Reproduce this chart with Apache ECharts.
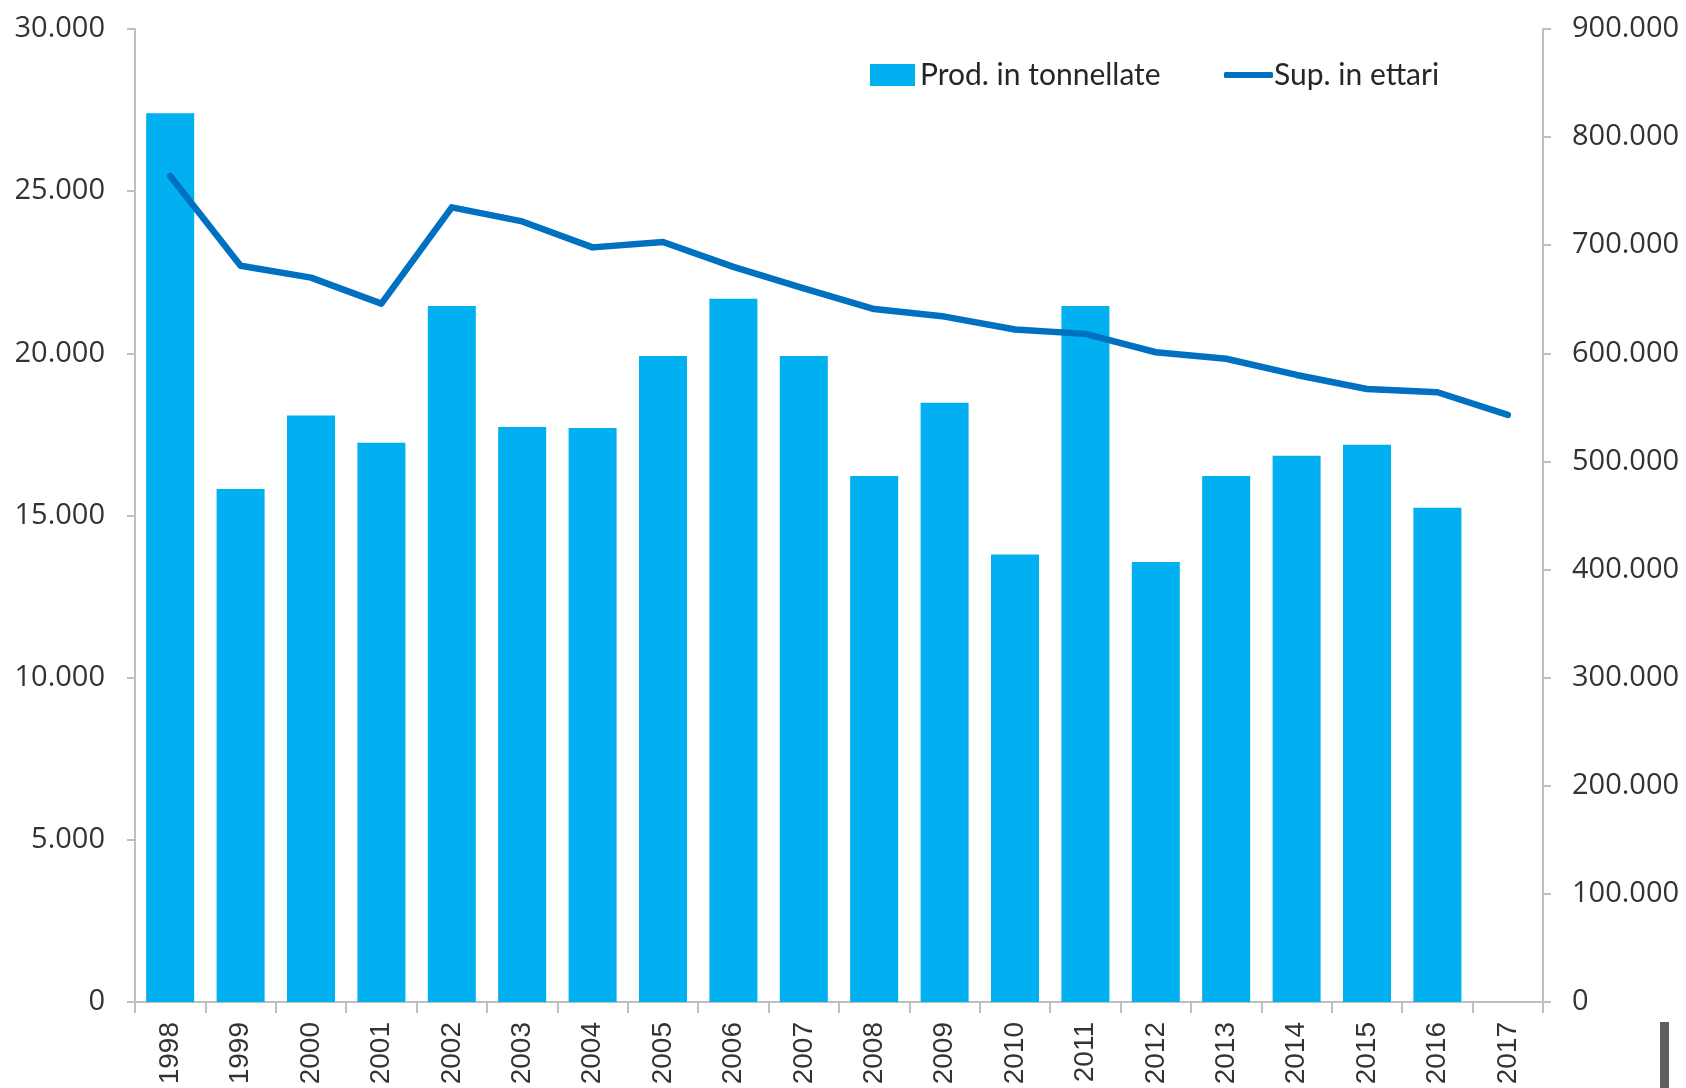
<!DOCTYPE html>
<html>
<head>
<meta charset="utf-8">
<script src="https://cdn.jsdelivr.net/npm/echarts@6/dist/echarts.min.js"></script>
<style>
html,body{margin:0;padding:0;background:#fff;}
#c{width:1686px;height:1088px;}
</style>
</head>
<body>
<div id="c"></div>
<script>
const years = ['1998','1999','2000','2001','2002','2003','2004','2005','2006','2007','2008','2009','2010','2011','2012','2013','2014','2015','2016','2017'];
const prodTonnellate = [27400, 15820, 18080, 17240, 21460, 17730, 17700, 19920, 21680, 19920, 16220, 18480, 13800, 21460, 13570, 16220, 16840, 17180, 15240, null];
const supEttari = [764000, 681000, 670000, 646000, 735000, 722000, 698000, 703000, 680000, 660000, 641000, 634000, 622000, 618000, 601000, 595000, 580000, 567000, 564000, 543000];
const seriesNames = ['Prod. in tonnellate', 'Sup. in ettari'];
const leftAxis = {min: 0, max: 30000, interval: 5000};
const rightAxis = {min: 0, max: 900000, interval: 100000};

function fmt(v){ return String(v).replace(/\B(?=(\d{3})+(?!\d))/g, '.'); }

const axisColor = '#bfbfbf';
const labelColor = '#333333';
const chart = echarts.init(document.getElementById('c'), null, {renderer: 'canvas'});
chart.setOption({
  animation: false,
  backgroundColor: '#ffffff',
  grid: {left: 135, right: 143, top: 29, bottom: 86, containLabel: false},
  legend: [{
    data: [seriesNames[0]],
    left: 865, top: 55,
    itemWidth: 45, itemHeight: 22, icon: 'rect',
    textStyle: {fontFamily: 'Lato', fontSize: 30, lineHeight: 22, color: '#262626'}
  },{
    data: [seriesNames[1]],
    left: 1219, top: 55,
    itemWidth: 49, itemHeight: 6, icon: 'roundRect',
    textStyle: {fontFamily: 'Lato', fontSize: 30, lineHeight: 22, color: '#262626', padding: [0,0,0,-4]}
  }],
  xAxis: {
    type: 'category',
    data: years,
    boundaryGap: true,
    axisLine: {lineStyle: {color: axisColor, width: 2}},
    axisTick: {show: true, length: 11, lineStyle: {color: axisColor, width: 2}},
    axisLabel: {rotate: 90, margin: 20, fontFamily: 'Liberation Sans', fontSize: 28, color: labelColor, interval: 0}
  },
  yAxis: [{
    type: 'value', position: 'left',
    min: leftAxis.min, max: leftAxis.max, interval: leftAxis.interval,
    splitLine: {show: false},
    axisLine: {show: true, lineStyle: {color: axisColor, width: 2}},
    axisTick: {show: true, length: 8, lineStyle: {color: axisColor, width: 2}},
    axisLabel: {margin: 30, fontFamily: 'Open Sans', fontSize: 29, color: labelColor, formatter: fmt}
  },{
    type: 'value', position: 'right',
    min: rightAxis.min, max: rightAxis.max, interval: rightAxis.interval,
    splitLine: {show: false},
    axisLine: {show: true, lineStyle: {color: axisColor, width: 2}},
    axisTick: {show: true, length: 8, lineStyle: {color: axisColor, width: 2}},
    axisLabel: {margin: 29, fontFamily: 'Open Sans', fontSize: 29, color: labelColor, formatter: fmt}
  }],
  series: [{
    name: seriesNames[0],
    type: 'bar',
    yAxisIndex: 0,
    data: prodTonnellate,
    barWidth: 48,
    itemStyle: {color: '#00b0f0'}
  },{
    name: seriesNames[1],
    type: 'line',
    yAxisIndex: 1,
    data: supEttari,
    symbol: 'none',
    lineStyle: {color: '#0070c0', width: 6.5, cap: 'round', join: 'round'},
    itemStyle: {color: '#0070c0'}
  }],
  graphic: [{
    type: 'rect',
    shape: {x: 1660, y: 1022, width: 9, height: 70},
    style: {fill: '#5f5f5f'}
  }]
});
</script>
</body>
</html>
